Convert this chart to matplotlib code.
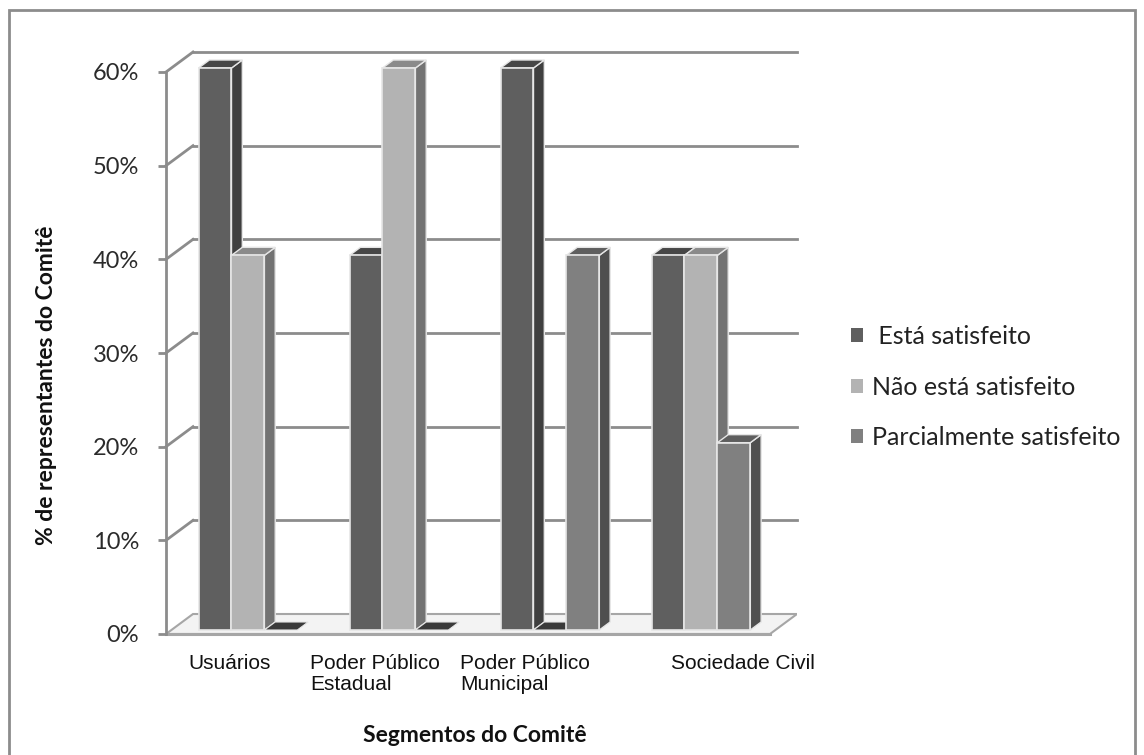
import matplotlib
matplotlib.use("Agg")
import matplotlib.pyplot as plt
from matplotlib.patches import Polygon, Rectangle, Patch
import matplotlib.transforms as mtransforms

# data
categories = ["Usuários", "Poder Público\nEstadual", "Poder Público\nMunicipal", "Sociedade Civil"]
series_names = [" Está satisfeito", "Não está satisfeito", "Parcialmente satisfeito"]
esta = [0.60, 0.40, 0.60, 0.40]
nao_esta = [0.40, 0.60, 0.00, 0.40]
parcial = [0.00, 0.00, 0.40, 0.20]
yticks = [0.0, 0.1, 0.2, 0.3, 0.4, 0.5, 0.6]
ytick_labels = ["0%", "10%", "20%", "30%", "40%", "50%", "60%"]
label_offsets = [0.424, 0.384, 0.377, 0.82]   # where excel put the category text

# colours: front, side, top
front = ["#5f5f5f", "#b3b3b3", "#808080"]
side = ["#3f3f3f", "#737373", "#4f4f4f"]
top = ["#474747", "#8a8a8a", "#5e5e5e"]
grid_c = "#8c8c8c"

# fake 3d projection (depth in data units)
DX = 27 / 151.0
DY = 20 * 0.6 / 562.0
F0, F1 = 0.2, 0.6      # front/back of the bars as fraction of depth
OFF, W = 0.18, 0.218   # bar start inside a category, bar width

fig = plt.figure(figsize=(11.44, 7.55), dpi=100)
ax = fig.add_axes([166 / 1144, (755 - 634) / 755, (797 - 166) / 1144, (634 - 52) / 755])
ax.set_xlim(0, len(categories) + DX)
ax.set_ylim(0, 0.6 + DY)
for s in ["top", "right", "bottom"]:
    ax.spines[s].set_visible(False)
ax.spines["left"].set_bounds(0, 0.6)
ax.spines["left"].set_color(grid_c)
ax.spines["left"].set_linewidth(2)
ax.set_xticks([])
ax.set_yticks(yticks)
ax.set_yticklabels(ytick_labels, fontfamily="Lato", fontsize=17, color="#2b2b2b")
ax.tick_params(axis="y", direction="out", length=5.8, width=2, color=grid_c, pad=13.5)
ax.patch.set_visible(False)

n = len(categories)

# floor
floor = Polygon([(0, 0), (n, 0), (n + DX, DY), (DX, DY)], closed=True,
                facecolor="#f3f3f3", edgecolor="#a6a6a6", lw=1.5, zorder=1)
ax.add_patch(floor)
ax.plot([0, n], [0, 0], color="#a6a6a6", lw=2.2, zorder=1, clip_on=False)

# side wall diagonals + back wall gridlines
for v in yticks[1:]:
    ax.plot([0, DX], [v, v + DY], color=grid_c, lw=2, zorder=1, clip_on=False)
    ax.plot([DX, n + DX], [v + DY, v + DY], color=grid_c, lw=2, zorder=1, clip_on=False)

ddx = (F1 - F0) * DX
ddy = (F1 - F0) * DY
edge = "#e6e6e6"
values = [esta, nao_esta, parcial]
z = 3
for i in range(n):
    for j, vals in enumerate(values):
        v = vals[i]
        x0 = i + OFF + j * W + F0 * DX
        y0 = F0 * DY
        if v == 0:
            ax.add_patch(Polygon([(x0, y0), (x0 + W, y0), (x0 + W + ddx, y0 + ddy), (x0 + ddx, y0 + ddy)],
                                 closed=True, facecolor="#3a3a3a", edgecolor=edge, lw=0.8, zorder=z))
            z += 1
            continue
        ax.add_patch(Polygon([(x0 + W, y0), (x0 + W + ddx, y0 + ddy), (x0 + W + ddx, y0 + ddy + v), (x0 + W, y0 + v)],
                             closed=True, facecolor=side[j], edgecolor=edge, lw=1, zorder=z))
        ax.add_patch(Polygon([(x0, y0 + v), (x0 + W, y0 + v), (x0 + W + ddx, y0 + v + ddy), (x0 + ddx, y0 + v + ddy)],
                             closed=True, facecolor=top[j], edgecolor=edge, lw=1, zorder=z))
        ax.add_patch(Rectangle((x0, y0), W, v, facecolor=front[j], edgecolor=edge, lw=1.2, zorder=z + 1))
        z += 2

# category labels
trans = mtransforms.blended_transform_factory(ax.transData, ax.transAxes)
for i, lab in enumerate(categories):
    ax.text(i + label_offsets[i], -0.034, lab, transform=trans, ha="center", va="top",
            multialignment="left", fontfamily="Liberation Sans", fontsize=15,
            color="#111111", linespacing=1.15)

# axis titles
fig.text(475 / 1144, 1 - 742 / 755, "Segmentos do Comitê", ha="center", va="baseline",
         fontfamily="Lato", fontweight="bold", fontsize=16.5, color="#111111")
fig.text(47 / 1144, 1 - 385 / 755, "% de representantes do Comitê", ha="center", va="center",
         rotation=90, fontfamily="Lato", fontweight="bold", fontsize=16.5, color="#111111")

# legend
handles = [Patch(facecolor=front[k], edgecolor="none") for k in range(3)]
fig.legend(handles, series_names, loc="center left", bbox_to_anchor=(838 / 1144, 1 - 387 / 755),
           frameon=False, prop={"family": "Lato", "size": 18}, handlelength=0.5, handleheight=0.5,
           handletextpad=0.35, labelspacing=1.1, borderpad=0, labelcolor="#222222")

# chart border
fig.add_artist(Rectangle((9 / 1144, -0.05), (1135 - 9) / 1144, 1.05 - 10 / 755,
                         transform=fig.transFigure, fill=False, edgecolor=grid_c, lw=2))

fig.savefig("out.png", dpi=100)
